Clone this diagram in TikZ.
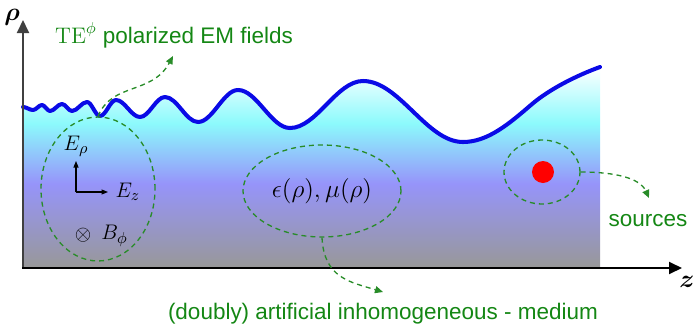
\documentclass[tikz,border=0pt]{standalone}
\usepackage{amsmath,amssymb}
\usepackage{fontspec}
\setsansfont{Liberation Sans}
\usepackage{tikz}
\usetikzlibrary{shapes.geometric,arrows.meta}
\definecolor{labelgreen}{RGB}{20,135,20}
\definecolor{dashgreen}{RGB}{40,140,40}
\definecolor{wavecolor}{RGB}{10,10,230}
\definecolor{mediumgrey}{RGB}{152,152,152}
\definecolor{mediumlilac}{RGB}{150,148,250}
\definecolor{mediumcyan}{RGB}{140,250,252}
\pgfdeclareverticalshading{mediumshade}{100bp}{color(0bp)=(mediumgrey); color(25bp)=(mediumgrey); color(46bp)=(mediumlilac); color(61bp)=(mediumcyan); color(75bp)=(white); color(100bp)=(white)}
% half sine waves between the extremes of the field
\newcommand\wavepath{(23,107) cos (28,108.5) sin (33,110) cos (37.5,107.5) sin (42,105)
  cos (46,108) sin (50,111) cos (56,107.5) sin (62,104) cos (67,107.5) sin (72,111)
  cos (79.5,106.5) sin (87,102) cos (93.5,109) sin (100,116) cos (108,108) sin (116,100)
  cos (128,108.5) sin (140,117) cos (152.5,107) sin (165,97) cos (181.5,109.5) sin (198,122)
  cos (218,106) sin (238,90) cos (264,109) sin (290,128) cos (326.5,104.5) sin (363,81)
  cos (413,111.5) sin (463,142) cos (531.5,104.5) .. controls (550,88.6) and (578,75) .. (600,67)}
\tikzset{
  axisline/.style={line width=1.1pt, -{Triangle[length=0.26cm,width=0.24cm]}},
  region/.style={ellipse, draw=dashgreen, line width=0.75pt, dash pattern=on 0.1cm off 0.08cm, inner sep=0pt},
  pointer/.style={draw=dashgreen, line width=0.75pt, dash pattern=on 0.1cm off 0.08cm, -{Triangle[length=0.16cm,width=0.14cm]}},
  greenlabel/.style={text=labelgreen, font=\sffamily\fontsize{12.8}{15}\selectfont, anchor=base, inner sep=0pt},
  fieldarrow/.style={line width=0.6pt, -{Triangle[length=0.13cm,width=0.1cm]}},
  mathlabel/.style={font=\fontsize{12.5}{14}\selectfont, inner sep=0pt},
  axislabel/.style={font=\fontsize{15}{17}\selectfont, inner sep=0pt},
}

\begin{document}
\begin{tikzpicture}[x=0.02cm, y=-0.02cm]
  \useasboundingbox (0,0) rectangle (698,329);

  % medium and field
  \shade[shading=mediumshade] \wavepath -- (600,268) -- (23,268) -- cycle;
  \draw[wavecolor, line width=2.3pt, line cap=round, line join=round] \wavepath;

  % axes
  \coordinate (O) at (23,268);
  \coordinate (rhoend) at (23,20);
  \coordinate (zend) at (682,268);
  \draw[axisline, black!75] (O) -- (rhoend);
  \draw[axisline] ([xshift=-0.55pt]O) -- (zend);
  \node[axislabel] (rholab) at (12,17) {$\boldsymbol{\rho}$};
  \node[axislabel] (zlab) at (687,282) {$\boldsymbol{z}$};

  % regions
  \node[region, minimum width=2.28cm, minimum height=2.88cm] (fields) at (98,189) {};
  \node[region, minimum width=3.16cm, minimum height=1.84cm, font=\fontsize{14.5}{16}\selectfont] (medium) at (322,191) {$\epsilon(\rho),\mu(\rho)$};
  \node[region, minimum width=1.52cm, minimum height=1.28cm] (source) at (542,172) {};
  \node[circle, fill=red, minimum size=0.44cm, inner sep=0pt] (dot) at (543,172) {};

  % field components
  \coordinate (fo) at (76,192);
  \draw[fieldarrow] (fo) -- ++(0,-31) node[mathlabel, above=2pt] (erho) {$E_\rho$};
  \draw[fieldarrow] (fo) -- ++(32,0) node[mathlabel, right=4pt] (ez) {$E_z$};
  \node[mathlabel] (cross) at (83,235) {$\otimes$};
  \node[mathlabel, anchor=west] (bphi) at (101,236) {$B_\phi$};

  % labels
  \node[greenlabel] (fieldslab) at (174,43) {$\mathrm{TE}^{\phi}$ polarized EM fields};
  \node[greenlabel] (mediumlab) at (383,319) {(doubly) artificial inhomogeneous - medium};
  \node[greenlabel] (sourcelab) at (648,226) {sources};

  \coordinate (fieldsend) at (173,56);
  \coordinate (mediumend) at (383,292);
  \coordinate (sourceend) at (649,198);
  \draw[pointer] (fields.north) .. controls (112,82) and (152,95) .. (fieldsend);
  \draw[pointer] (medium.south) .. controls (324,278) and (350,282) .. (mediumend);
  \draw[pointer] (source.east) .. controls (615,172) and (640,178) .. (sourceend);
\end{tikzpicture}
\end{document}
